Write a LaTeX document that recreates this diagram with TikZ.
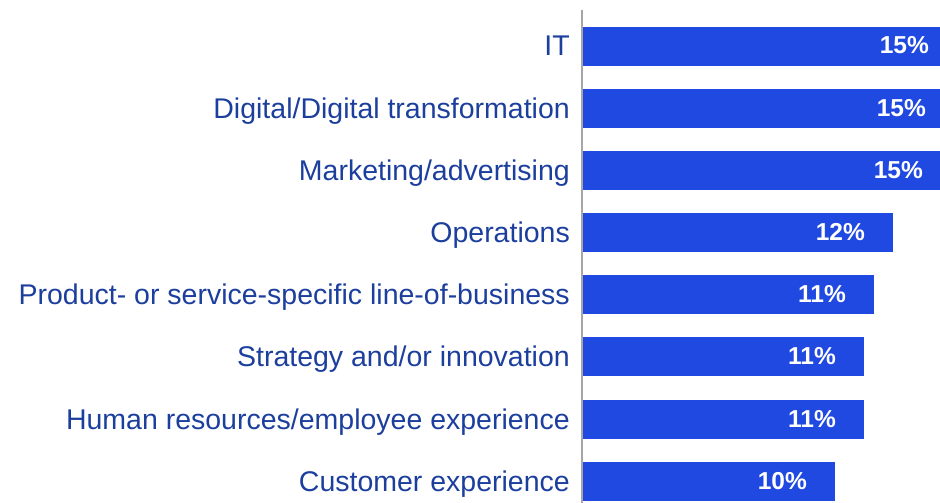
\documentclass[tikz,border=0pt]{standalone}
\usepackage{fontspec}
\setmainfont{Liberation Sans}
\definecolor{barblue}{HTML}{1F49E0}
\definecolor{labblue}{HTML}{1C3F9E}
\definecolor{axisgray}{HTML}{A6A6A6}
\begin{document}
\begin{tikzpicture}[x=1pt,y=-1pt,
  catlab/.style={anchor=base east,text=labblue,font=\fontsize{28.5}{32}\selectfont,inner sep=0pt},
  vallab/.style={anchor=base east,text=white,font=\fontsize{24.5}{28}\selectfont\bfseries,inner sep=0pt},
  bar/.style={fill=barblue,draw=none}]
\useasboundingbox (0,0) rectangle (940,503);
\begin{scope}
\clip (0,0) rectangle (940,503);
\foreach \top/\len/\name/\val/\txt in {
  27/957/b1/15\%/IT,
  89/954/b2/15\%/Digital\slash Digital transformation,
  151/951/b3/15\%/Marketing\slash advertising,
  213/893/b4/12\%/Operations,
  275/874/b5/11\%/Product- or service-specific line-of-business,
  337/864/b6/11\%/Strategy and\slash or innovation,
  400/864/b7/11\%/Human resources\slash employee experience,
  462/835/b8/10\%/Customer experience}{
  \path[bar] (583,\top) rectangle (\len,\top+39);
  \node[vallab] (\name v) at (\len-28,\top+27) {\val};
  \node[catlab] (\name c) at (570,\top+29) {\txt};
}
\end{scope}
\draw[axisgray,line width=1.6pt] (582,10) -- (582,503);
\end{tikzpicture}
\end{document}
